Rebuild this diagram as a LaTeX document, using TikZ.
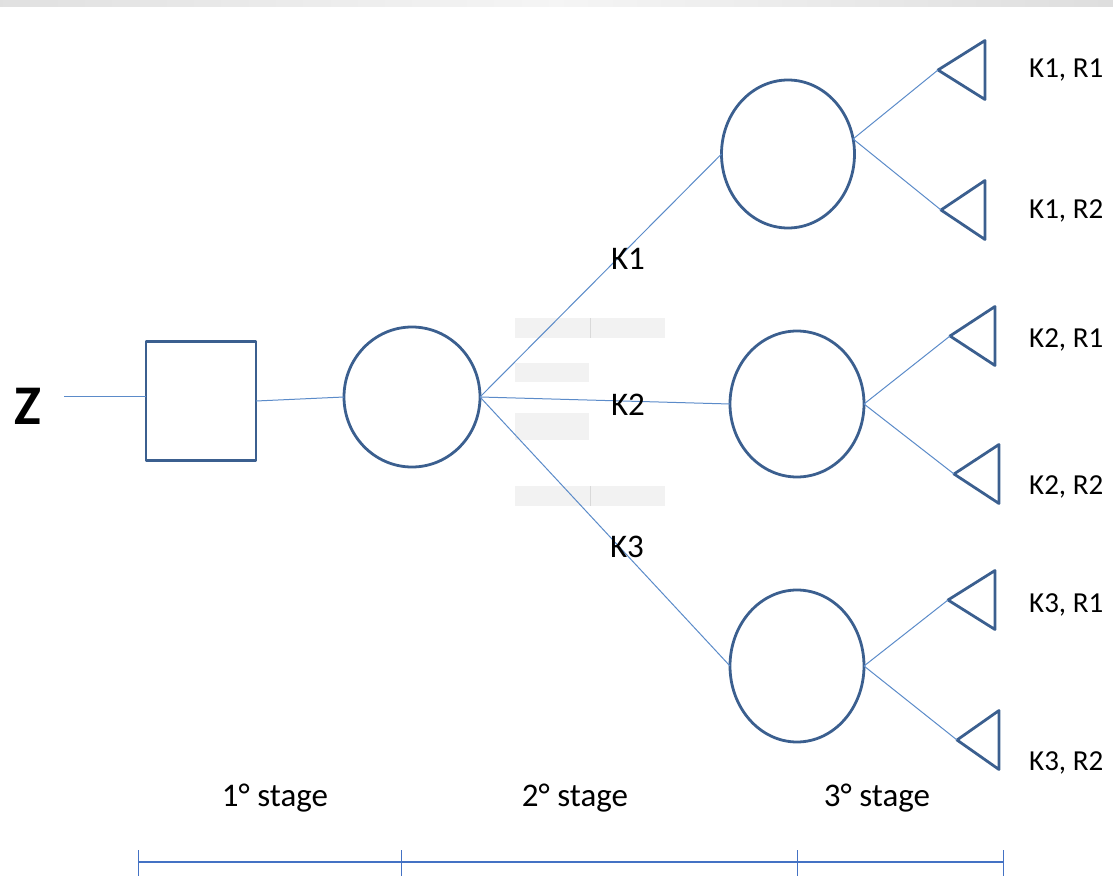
\documentclass[tikz,border=0pt]{standalone}
\usepackage{fontspec}
\setmainfont{Carlito}
\usetikzlibrary{shapes.geometric}
\definecolor{shp}{HTML}{3B5F8F}
\definecolor{con}{HTML}{5B8BC9}
\definecolor{tl}{HTML}{4472C4}
\definecolor{ph}{HTML}{F2F2F2}
\begin{document}
\begin{tikzpicture}[x=1pt,y=-1pt,
  shapeline/.style={draw=shp,line width=2.8pt,line join=round},
  chance/.style={ellipse,shapeline,inner sep=0pt,outer sep=0pt},
  conn/.style={draw=con,line width=1pt},
  lbl/.style={font=\fontsize{29}{29}\selectfont,anchor=west,inner sep=0pt},
  klbl/.style={font=\fontsize{33}{33}\selectfont,inner sep=0pt},
  stg/.style={font=\fontsize{33}{33}\selectfont,inner sep=0pt},
  phbox/.style={fill=ph,draw=none}]
\useasboundingbox (0,0) rectangle (1113,877);
% top bar
\shade[left color=black!12,right color=black!13,middle color=black!4] (0,0) rectangle (1113,7);
% placeholder boxes
\fill[phbox] (515,318) rectangle (665,338);
\draw[black!15,line width=1pt] (590,318) -- (590,338);
\fill[phbox] (515,363) rectangle (589,382);
\fill[phbox] (515,413) rectangle (589,440);
\fill[phbox] (515,486) rectangle (665,506);
\draw[black!15,line width=1pt] (590,486) -- (590,506);
% nodes
\node[font=\bfseries\fontsize{56}{56}\selectfont,inner sep=0pt] (z) at (28,406) {Z};
\node[shapeline,minimum width=110,minimum height=119,inner sep=0pt,outer sep=0pt] (d) at (201,401) {};
\node[chance,minimum width=136,minimum height=140] (c0) at (412,397) {};
\node[chance,minimum width=133,minimum height=148] (c1) at (788,154) {};
\node[chance,minimum width=134,minimum height=146] (c2) at (797,404) {};
\node[chance,minimum width=134,minimum height=152] (c3) at (797,666) {};
% triangles
\foreach \n/\x/\y/\w in {1/938/70/47, 2/941/210/44, 3/950/336/45, 4/954/474/45, 5/948/600/47, 6/957/740/42}{
  \coordinate (t\n) at (\x,\y);
  \draw[shapeline] (t\n) -- ++(\w,-29.5) -- ++(0,59) -- cycle;
}
% connectors
\coordinate (zs) at (64,396);
\draw[conn] (zs) -- (zs -| d.west);
\draw[conn] (d.east) -- (c0.west);
\draw[conn] (c0.east) -- (c1.west);
\draw[conn] (c0.east) -- (c2.west);
\draw[conn] (c0.east) -- (c3.west);
\draw[conn] (c1.13) -- (t1);
\draw[conn] (c1.13) -- (t2);
\draw[conn] (c2.east) -- (t3);
\draw[conn] (c2.east) -- (t4);
\draw[conn] (c3.east) -- (t5);
\draw[conn] (c3.east) -- (t6);
% labels
\node[klbl] (k1) at (628,259) {K1};
\node[klbl] (k2) at (628,405) {K2};
\node[klbl] (k3) at (627,547) {K3};
\node[lbl] (l1) at (1029,70) {K1, R1};
\node[lbl] (l2) at (1029,211) {K1, R2};
\node[lbl] (l3) at (1029,340) {K2, R1};
\node[lbl] (l4) at (1029,487) {K2, R2};
\node[lbl] (l5) at (1029,605) {K3, R1};
\node[lbl] (l6) at (1029,763) {K3, R2};
\node[stg] (s1) at (275,798) {1° stage};
\node[stg] (s2) at (575,798) {2° stage};
\node[stg] (s3) at (877,798) {3° stage};
% timeline
\coordinate (b0) at (138,862);
\coordinate (b1) at (401,862);
\coordinate (b2) at (797,862);
\coordinate (b3) at (1003,862);
\draw[tl,line width=1.3pt] (b0) -- (b3);
\foreach \i in {0,1,2,3}{\draw[tl,line width=1pt] (b\i) ++(0,-12) -- ++(0,26);}
\end{tikzpicture}
\end{document}
